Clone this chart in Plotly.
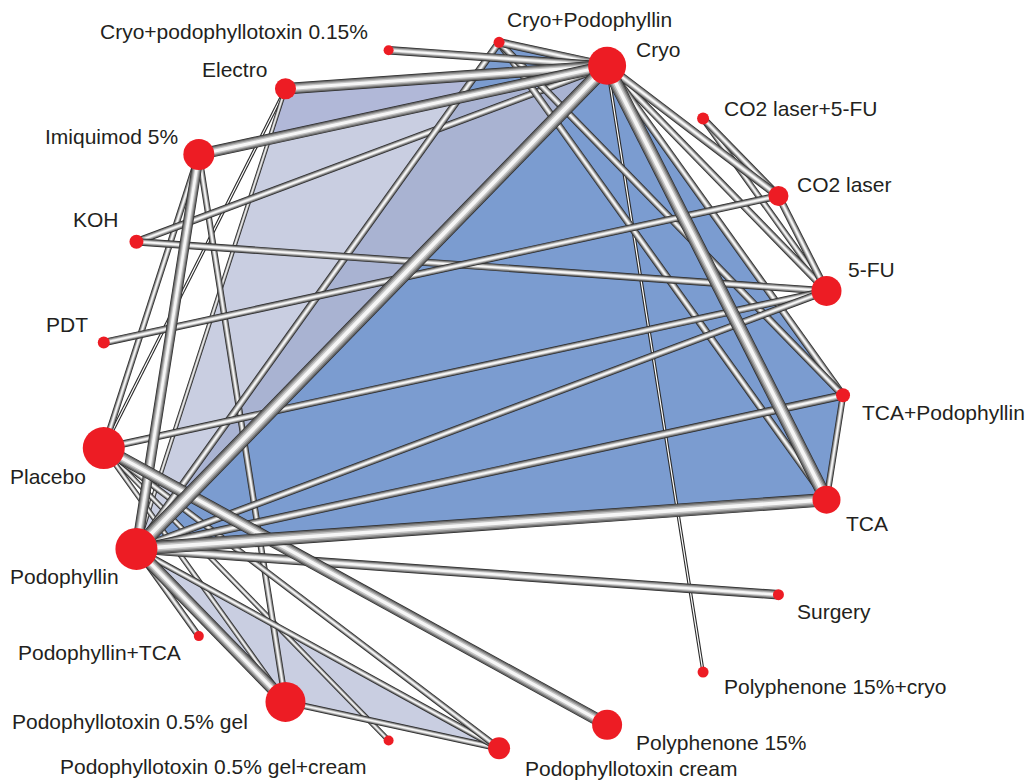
import math
import plotly.graph_objects as go

# ---------------- data ----------------
treatments = [
    "5-FU", "CO2 laser", "CO2 laser+5-FU", "Cryo", "Cryo+Podophyllin",
    "Cryo+podophyllotoxin 0.15%", "Electro", "Imiquimod 5%", "KOH", "PDT",
    "Placebo", "Podophyllin", "Podophyllin+TCA", "Podophyllotoxin 0.5% gel",
    "Podophyllotoxin 0.5% gel+cream", "Podophyllotoxin cream", "Polyphenone 15%",
    "Polyphenone 15%+cryo", "Surgery", "TCA", "TCA+Podophyllin",
]
# relative node weight (marker diameter)
node_weight = [30, 20, 12, 38, 11, 10, 21, 31, 14, 12,
               42, 42, 10, 40, 10, 22, 30, 11, 11, 28, 14]

edge_from = [
    "Electro", "Cryo", "Electro", "CO2 laser+5-FU", "TCA+Podophyllin",
    "Imiquimod 5%", "Imiquimod 5%", "Podophyllin", "Podophyllotoxin 0.5% gel",
    "Podophyllin", "Placebo", "Placebo", "Placebo",
    "Cryo", "Cryo", "Cryo", "Cryo+Podophyllin", "Cryo+Podophyllin",
    "Cryo+Podophyllin", "CO2 laser", "CO2 laser+5-FU", "KOH", "PDT",
    "Placebo", "Podophyllin",
    "Cryo", "Cryo", "Podophyllin", "Cryo",
    "Podophyllin", "Imiquimod 5%", "Cryo", "Cryo",
    "Placebo", "Podophyllin", "Cryo", "Podophyllin", "Cryo",
]
edge_to = [
    "Placebo", "Polyphenone 15%+cryo", "Podophyllin", "5-FU", "TCA",
    "Placebo", "Podophyllotoxin 0.5% gel", "Podophyllin+TCA", "Podophyllotoxin cream",
    "Podophyllotoxin cream", "Podophyllotoxin cream", "Podophyllotoxin 0.5% gel+cream",
    "Podophyllotoxin 0.5% gel",
    "KOH", "5-FU", "TCA+Podophyllin", "TCA", "TCA+Podophyllin",
    "Podophyllin", "5-FU", "CO2 laser", "5-FU", "CO2 laser",
    "5-FU", "5-FU",
    "Cryo+Podophyllin", "Cryo+podophyllotoxin 0.15%", "TCA+Podophyllin", "CO2 laser",
    "Surgery", "Podophyllin", "Electro", "Imiquimod 5%",
    "Polyphenone 15%", "Podophyllotoxin 0.5% gel", "TCA", "TCA", "Podophyllin",
]
edge_weight = [
    2, 2, 3, 5, 5,
    5, 5, 5, 5,
    5, 5, 4,
    4,
    6, 6, 6, 6, 6,
    6, 6, 6, 6, 6,
    6, 6,
    7, 7, 7, 7,
    8, 9, 10, 10,
    11, 11, 12, 12, 13,
]

# multi-arm shading: (vertices, colour) ; "X:a|b~c|d" = crossing of lines a-b and c-d
shade_polys = [
    (["Electro", "Cryo", "Podophyllin"], "#c9cee1"),
    (["Electro", "Cryo", "X:Imiquimod 5%|Cryo~Electro|Podophyllin"], "#b1b8d8"),
    (["Cryo+Podophyllin", "Cryo", "TCA+Podophyllin", "TCA", "Podophyllin"], "#7b9cd0"),
    (["X:Cryo+Podophyllin|Podophyllin~Imiquimod 5%|Cryo", "Cryo", "Podophyllin"], "#a9b3d2"),
    (["Podophyllin", "Podophyllotoxin 0.5% gel", "Podophyllotoxin cream"], "#c9cee1"),
]

# label placement (anchor, x shift px, y shift px)
label_place = {
    "5-FU": ("left", 19, 21), "CO2 laser": ("left", 17, 11),
    "CO2 laser+5-FU": ("left", 19, 10), "Cryo": ("left", 27, 16),
    "Cryo+Podophyllin": ("left", 6, 23), "Cryo+podophyllotoxin 0.15%": ("right", -19, 19),
    "Electro": ("right", -16, 19), "Imiquimod 5%": ("right", -19, 18),
    "KOH": ("right", -15, 22), "PDT": ("right", -14, 18),
    "Placebo": ("right", -16, -28), "Podophyllin": ("right", -15, -28),
    "Podophyllin+TCA": ("right", -16, -16), "Podophyllotoxin 0.5% gel": ("right", -35, -20),
    "Podophyllotoxin 0.5% gel+cream": ("right", -21, -26),
    "Podophyllotoxin cream": ("left", 24, -20), "Polyphenone 15%": ("left", 27, -18),
    "Polyphenone 15%+cryo": ("left", 19, -14), "Surgery": ("left", 17, -17),
    "TCA": ("left", 17, -24), "TCA+Podophyllin": ("left", 17, -17),
}

# ---------------- layout of nodes on circle ----------------
n = len(treatments)
pos = {}
for i, t in enumerate(treatments):
    a = (i + 1) * 2 * math.pi / n
    pos[t] = (math.cos(a), math.sin(a))


def intersect(p1, p2, p3, p4):
    x1, y1 = p1; x2, y2 = p2; x3, y3 = p3; x4, y4 = p4
    d = (x1 - x2) * (y3 - y4) - (y1 - y2) * (x3 - x4)
    a = x1 * y2 - y1 * x2
    b = x3 * y4 - y3 * x4
    return ((a * (x3 - x4) - (x1 - x2) * b) / d, (a * (y3 - y4) - (y1 - y2) * b) / d)


def vertex(v):
    if v.startswith("X:"):
        l1, l2 = v[2:].split("~")
        a, b = l1.split("|")
        c, d = l2.split("|")
        return intersect(pos[a], pos[b], pos[c], pos[d])
    return pos[v]


fig = go.Figure()

for verts, col in shade_polys:
    pts = [vertex(v) for v in verts]
    xs = [p[0] for p in pts] + [pts[0][0]]
    ys = [p[1] for p in pts] + [pts[0][1]]
    fig.add_trace(go.Scatter(x=xs, y=ys, mode="lines", fill="toself", fillcolor=col,
                             line=dict(width=0.5, color=col), hoverinfo="skip"))

# edges drawn as shaded tubes, thin first
order = sorted(range(len(edge_from)), key=lambda k: edge_weight[k])
for k in order:
    a, b, w = edge_from[k], edge_to[k], edge_weight[k]
    xs = [pos[a][0], pos[b][0]]
    ys = [pos[a][1], pos[b][1]]
    if w <= 2:
        layers = [(w + 1.4, "#2a2a2a"), (w * 0.6, "#ffffff")]
    else:
        layers = [(w + 1.4, "#2b2b2b"), (w, "#676767"), (w * 0.78, "#959595"),
                  (w * 0.55, "#c4c4c4"), (w * 0.3, "#f6f6f6")]
    for lw, c in layers:
        fig.add_trace(go.Scatter(x=xs, y=ys, mode="lines", line=dict(width=lw, color=c),
                                 hoverinfo="skip"))

fig.add_trace(go.Scatter(
    x=[pos[t][0] for t in treatments], y=[pos[t][1] for t in treatments],
    mode="markers", opacity=1,
    marker=dict(size=node_weight, color="#ed1c24", opacity=1, line=dict(width=0)),
    text=treatments, hoverinfo="text"))

for t in treatments:
    anc, dx, dy = label_place[t]
    fig.add_annotation(x=pos[t][0], y=pos[t][1], text=t, showarrow=False,
                       xanchor=anc, yanchor="middle", xshift=dx, yshift=dy,
                       font=dict(family="Liberation Sans, Arial, sans-serif", size=21,
                                 color="#231f20"))

fig.update_layout(
    width=1025, height=781, autosize=False,
    margin=dict(l=0, r=0, t=0, b=0),
    paper_bgcolor="white", plot_bgcolor="white", showlegend=False,
    xaxis=dict(range=[-1.268, 1.4896], visible=False, fixedrange=True),
    yaxis=dict(range=[-1.0895, 1.1167], visible=False, fixedrange=True),
)

fig.write_html(
    "out.html",
    config={"displayModeBar": False},
    post_script="document.body.style.margin='0px';document.body.style.overflow='hidden';",
)
